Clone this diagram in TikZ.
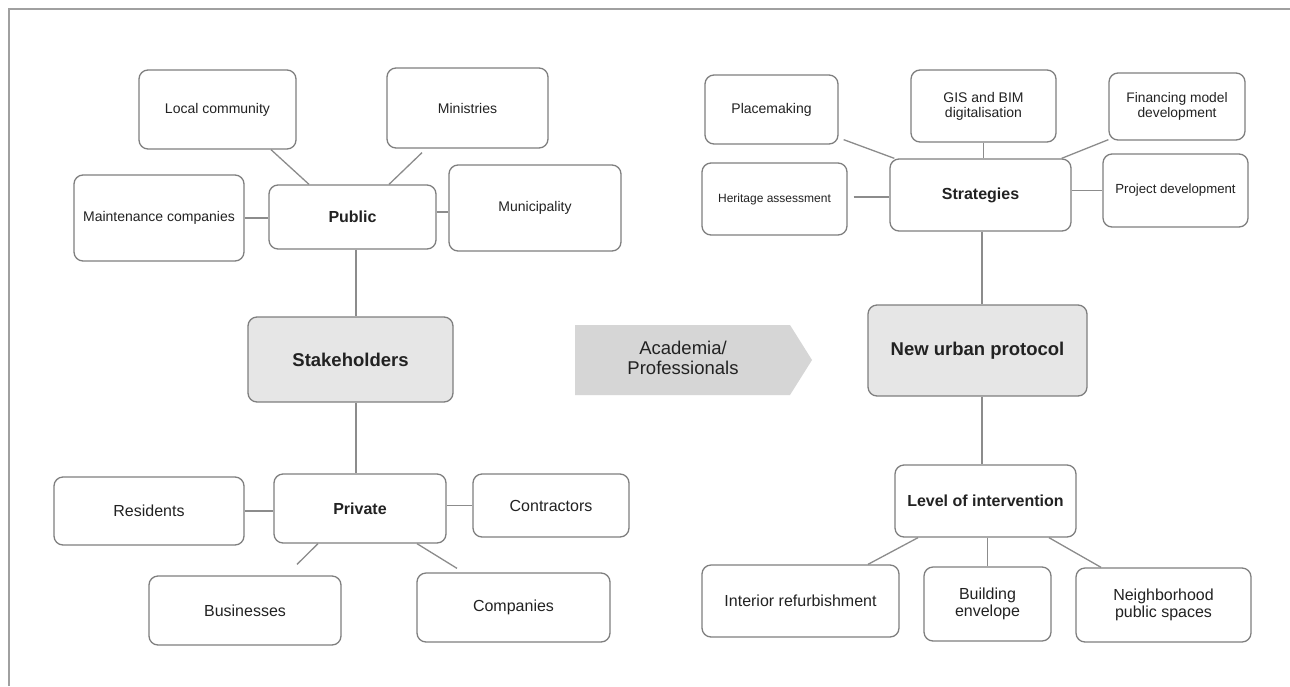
\documentclass[tikz,border=0pt]{standalone}
\usepackage{fontspec}
\setmainfont{Liberation Sans}
\usetikzlibrary{calc}
\definecolor{bordergray}{HTML}{7F7F7F}
\definecolor{linegray}{HTML}{8C8C8C}
\definecolor{hubfill}{HTML}{E6E6E6}
\definecolor{arrowfill}{HTML}{D6D6D6}
\definecolor{framegray}{HTML}{A0A0A0}
\definecolor{txt}{HTML}{222222}
\begin{document}
\begin{tikzpicture}[x=1pt,y=-1pt,
  sz/.style n args={2}{minimum width=#1pt,minimum height=#2pt},
  box/.style={draw=bordergray, line width=1.3pt, rounded corners=9pt, fill=white, align=center, inner sep=2pt, text=txt},
  leafXS/.style={box, font=\fontsize{12}{13.5}\selectfont},
  leafS/.style={box, font=\fontsize{14}{15}\selectfont},
  leafM/.style={box, font=\fontsize{16}{17.5}\selectfont},
  hub/.style={box, font=\bfseries\fontsize{16}{18}\selectfont},
  core/.style={box, fill=hubfill, font=\bfseries\fontsize{18.5}{20}\selectfont},
  conn/.style={draw=linegray, line width=1.3pt},
]
\useasboundingbox (0,0) rectangle (1290,686);
\fill[white] (0,0) rectangle (1290,686);
% frame
\draw[framegray, line width=2pt] (8.5,686) -- (8.5,8.5) -- (1290,8.5);

% ---------- left: stakeholders ----------
\node[leafS, sz={157}{79}] (lc)  at (217.5,109.5) {Local community};
\node[leafS, sz={161}{80}] (min) at (467.5,108) {Ministries};
\node[leafS, sz={170}{86}] (mc)  at (159,218) {Maintenance companies};
\node[hub,   sz={167}{64}] (pub) at (352.5,217) {Public};
\node[leafS, sz={172}{86}] (mun) at (535,208) {Municipality};
\node[core,  sz={205}{85}] (stk) at (350.5,359.5) {Stakeholders};
\node[hub,   sz={172}{69}] (prv) at (360,508.5) {Private};
\node[leafM, sz={190}{68}] (res) at (149,511) {Residents};
\node[leafM, sz={156}{63}] (con) at (551,505.5) {Contractors};
\node[leafM, sz={192}{69}] (bus) at (245,610.5) {Businesses};
\node[leafM, sz={193}{69}] (com) at (513.5,607.5) {Companies};

% ---------- middle arrow ----------
\fill[arrowfill] (575,325) -- (790,325) -- (812,360) -- (790,395) -- (575,395) -- cycle;
\node[align=center, text=txt, font=\fontsize{18.5}{20}\selectfont] (acad) at (683,358) {Academia/\\Professionals};

% ---------- right: protocol ----------
\node[leafS,  sz={133}{69}] (plc) at (771.5,109.5) {Placemaking};
\node[leafS,  sz={145}{72}] (gis) at (983.5,106) {GIS and BIM\\digitalisation};
\node[box, font=\fontsize{13.8}{15}\selectfont, sz={136}{67}] (fin) at (1177,106.5) {Financing model\\development};
\node[leafXS, sz={145}{72}] (her) at (774.5,199) {Heritage assessment};
\node[hub,    sz={181}{72}] (str) at (980.5,195) {Strategies};
\node[box, font=\fontsize{13.2}{15}\selectfont, sz={145}{73}] (prj) at (1175.5,190.5) {Project development};
\node[core,   sz={219}{91}] (nup) at (977.5,350.5) {New urban protocol};
\node[hub,    sz={181}{72}] (lvl) at (985.5,501) {Level of intervention};
\node[leafM,  sz={197}{72}] (int) at (800.5,601) {Interior refurbishment};
\node[leafM,  sz={127}{74}] (bld) at (987.5,604) {Building\\envelope};
\node[leafM,  sz={175}{74}] (nbh) at (1163.5,605) {Neighborhood\\public spaces};

% ---------- connectors: left ----------
\draw[conn] ([xshift=53.5pt]lc.south) -- ([xshift=-43.5pt]pub.north);
\draw[conn] ([xshift=-45.5pt,yshift=-4pt]min.south) -- ([xshift=36.5pt]pub.north);
\draw[conn] (mc.east) -- (mc.east -| pub.west);
\coordinate (pm) at ([yshift=5pt]pub.east);
\draw[conn] (pm) -- (pm -| mun.west);
\coordinate (ps) at ([xshift=3.5pt]pub.south);
\draw[conn] (ps) -- (ps |- stk.north);
\coordinate (sp) at ([xshift=5.5pt]stk.south);
\draw[conn] (sp) -- (sp |- prv.north);
\draw[conn] (res.east) -- (res.east -| prv.west);
\draw[conn] (con.west -| prv.east) -- (con.west);
\draw[conn] ([xshift=-42pt]prv.south) -- ([xshift=52pt,yshift=11pt]bus.north);
\draw[conn] ([xshift=57pt]prv.south) -- ([xshift=-56.5pt,yshift=4pt]com.north);

% ---------- connectors: right ----------
\draw[conn] ([xshift=5pt,yshift=5pt]plc.south east) -- ([xshift=5pt]str.north west);
\draw[conn] (gis.south) -- (gis.south |- str.north);
\draw[conn] ([yshift=1pt]fin.south west) -- ([xshift=-10pt]str.north east);
\coordinate (hs) at ([xshift=6pt,yshift=2pt]her.east);
\draw[conn] (hs) -- (hs -| str.west);
\draw[conn] (prj.west -| str.east) -- (prj.west);
\coordinate (sn) at ([xshift=1.5pt]str.south);
\draw[conn] (sn) -- (sn |- nup.north);
\coordinate (nl) at ([xshift=4.5pt]nup.south);
\draw[conn] (nl) -- (nl |- lvl.north);
\draw[conn] ([xshift=-67.5pt]lvl.south) -- ([xshift=67.5pt]int.north);
\draw[conn] (bld.north |- lvl.south) -- (bld.north);
\draw[conn] ([xshift=63.5pt]lvl.south) -- ([xshift=-62.5pt]nbh.north);
\end{tikzpicture}
\end{document}
